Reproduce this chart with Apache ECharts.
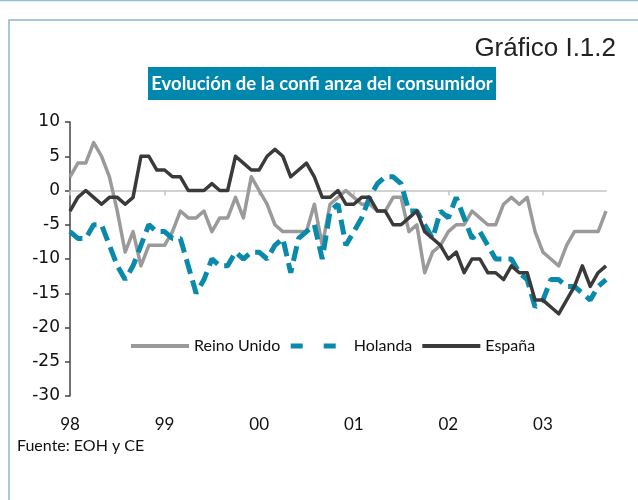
<!DOCTYPE html>
<html>
<head>
<meta charset="utf-8">
<script src="https://cdn.jsdelivr.net/npm/echarts@6/dist/echarts.min.js"></script>
<style>
  html, body { margin: 0; background: #fff; }
  #chart { width: 638px; height: 500px; }
</style>
</head>
<body>
<div id="chart"></div>
<script>
// años del eje (una etiqueta por enero)
const years = ['98', '99', '00', '01', '02', '03']
const months = ['01', '02', '03', '04', '05', '06', '07', '08', '09', '10', '11', '12']
const categories = []
years.forEach(y => months.forEach(m => categories.push(y + '-' + m)))
categories.length = 69 // ene 98 - sep 03

const seriesNames = ['Reino Unido', 'Holanda', 'España']

const reinoUnido = [
  2, 4, 4, 7, 5, 2, -3, -9, -6, -11,
  -8, -8, -8, -6, -3, -4, -4, -3, -6, -4,
  -4, -1, -4, 2, 0, -2, -5, -6, -6, -6,
  -6, -2, -8, -2, -1, 0, -1, -2, -2, -3,
  -3, -1, -1, -6, -5, -12, -9, -8, -6, -5,
  -5, -3, -4, -5, -5, -2, -1, -2, -1, -6,
  -9, -10, -11, -8, -6, -6, -6, -6, -3
]

const holanda = [
  -6, -7, -7, -5, -5, -8, -11, -13, -11, -8,
  -5, -6, -6, -7, -7, -11, -15, -13, -10, -11,
  -11, -9, -10, -9, -9, -10, -8, -7, -12, -7,
  -6, -5, -10, -3, -2, -8, -6, -4, -1, 1,
  2, 2, 1, -3, -3, -5, -7, -3, -4, -1,
  -4, -7, -6, -8, -10, -10, -10, -12, -13, -17,
  -16, -13, -13, -14, -14, -15, -16, -14, -13
]

const espana = [
  -3, -1, 0, -1, -2, -1, -1, -2, -1, 5,
  5, 3, 3, 2, 2, 0, 0, 0, 1, 0,
  0, 5, 4, 3, 3, 5, 6, 5, 2, 3,
  4, 2, -1, -1, 0, -2, -2, -1, -1, -3,
  -3, -5, -5, -4, -3, -6, -7, -8, -10, -9,
  -12, -10, -10, -12, -12, -13, -11, -12, -12, -16,
  -16, -17, -18, -16, -14, -11, -14, -12, -11
]

const colors = ['#9a9a9a', '#0a8aab', '#3a3a3a']
const holandaDash = [15, 7]

const chart = echarts.init(document.getElementById('chart'))

const option = {
  animation: false,
  title: {
    text: 'Gráfico I.1.2',
    right: 17,
    top: 31,
    textStyle: {
      fontFamily: 'Liberation Sans',
      fontSize: 26,
      fontWeight: 'normal',
      color: '#222'
    }
  },
  graphic: [
    {
      type: 'line',
      shape: { x1: 0, y1: 0.5, x2: 638, y2: 0.5 },
      style: { stroke: '#8fc0d8', lineWidth: 1.5 }
    },
    {
      type: 'polyline',
      shape: { points: [[9, 500], [9, 20], [638, 20]] },
      style: { stroke: '#8ab6cf', lineWidth: 1.5, fill: null }
    },
    {
      type: 'rect',
      shape: { x: 148, y: 67, width: 348, height: 33 },
      style: { fill: '#0087ae' }
    },
    {
      type: 'text',
      style: {
        text: 'Evolución de la confi anza del consumidor',
        x: 322,
        y: 84,
        textAlign: 'center',
        textVerticalAlign: 'middle',
        font: 'bold 18.5px Lato',
        fill: '#fff'
      }
    },
    {
      type: 'text',
      style: {
        text: 'Fuente: EOH y CE',
        x: 17,
        y: 446,
        textVerticalAlign: 'middle',
        font: '16px Lato',
        fill: '#111'
      }
    }
  ],
  legend: {
    left: 124,
    top: 333,
    itemWidth: 58,
    itemHeight: 14,
    itemGap: 8,
    itemStyle: { opacity: 0 },
    lineStyle: { width: 4 },
    textStyle: { fontFamily: 'Lato', fontSize: 16, color: '#111' },
    data: [
      { name: seriesNames[0] },
      { name: seriesNames[1], lineStyle: { width: 5, type: [12, 21] } },
      { name: seriesNames[2] }
    ]
  },
  grid: {
    left: 70,
    right: 32,
    top: 122,
    bottom: 104
  },
  xAxis: [
    {
      type: 'category',
      data: categories,
      boundaryGap: false,
      axisLine: { onZero: true, lineStyle: { color: '#c4c4c4', width: 1.5 } },
      axisTick: { interval: 11, length: 5, lineStyle: { color: '#c4c4c4', width: 1.5 } },
      axisLabel: { show: false }
    },
    {
      type: 'category',
      data: categories,
      boundaryGap: false,
      position: 'bottom',
      axisLine: { show: false },
      axisTick: { show: false },
      axisLabel: {
        interval: 11,
        margin: 20,
        fontFamily: 'Lato',
        fontSize: 17,
        color: '#111',
        formatter: v => v.slice(0, 2)
      }
    }
  ],
  yAxis: {
    type: 'value',
    min: -30,
    max: 10,
    interval: 5,
    axisLine: { show: true, lineStyle: { color: '#444', width: 1.5 } },
    axisTick: { show: true, length: 5, lineStyle: { color: '#444', width: 1.5 } },
    splitLine: { show: false },
    axisLabel: {
      margin: 10,
      fontFamily: 'DejaVu Sans',
      fontSize: 17,
      color: '#111'
    }
  },
  series: [
    {
      name: seriesNames[0],
      type: 'line',
      data: reinoUnido,
      symbol: 'none',
      lineStyle: { color: colors[0], width: 3.5, join: 'round' },
      itemStyle: { color: colors[0] }
    },
    {
      name: seriesNames[1],
      type: 'line',
      data: holanda,
      symbol: 'none',
      lineStyle: { color: colors[1], width: 5, type: holandaDash },
      itemStyle: { color: colors[1] }
    },
    {
      name: seriesNames[2],
      type: 'line',
      data: espana,
      symbol: 'none',
      lineStyle: { color: colors[2], width: 3.5, join: 'round' },
      itemStyle: { color: colors[2] }
    }
  ]
}

chart.setOption(option)
</script>
</body>
</html>
